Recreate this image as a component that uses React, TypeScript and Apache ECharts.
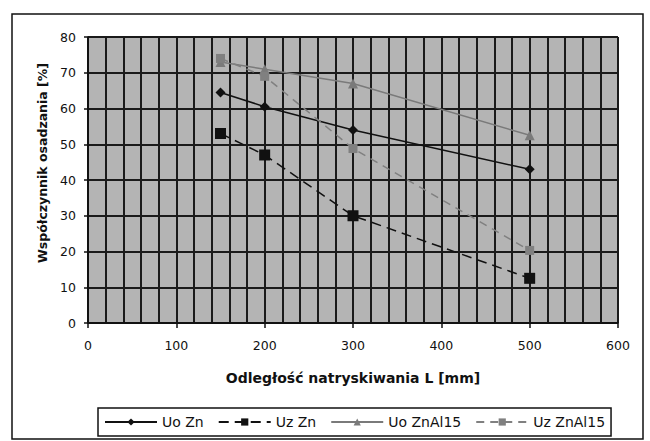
import React, { useEffect, useRef } from "react";
import * as echarts from "echarts";

const distances = [150, 200, 300, 500];
const uoZn = [64.5, 60.5, 54, 43];
const uzZn = [53, 47, 30, 12.5];
const uoZnAl15 = [73, 71, 67, 52.5];
const uzZnAl15 = [74, 69, 48.8, 20.3];
const seriesNames = ["Uo Zn", "Uz Zn", "Uo ZnAl15", "Uz ZnAl15"];

const pair = (vals: number[]) => distances.map((d, i) => [d, vals[i]]);

export default function App() {
  const ref = useRef<HTMLDivElement>(null);
  useEffect(() => {
    if (!ref.current) return;
    const chart = echarts.init(ref.current, null, { renderer: "svg" });
    const font = "DejaVu Sans, Verdana, sans-serif";
    const gridLine = { color: "#1a1a1a", width: 2 };
    chart.setOption({
      animation: false,
      backgroundColor: "#ffffff",
      textStyle: { fontFamily: font },
      graphic: [
        {
          type: "rect",
          shape: { x: 12, y: 14, width: 631, height: 425 },
          style: { fill: "none", stroke: "#111", lineWidth: 1.5 },
          z: -1,
        },
      ],
      grid: {
        left: 88,
        right: 32,
        top: 37,
        bottom: 118,
        show: true,
        backgroundColor: "#b4b4b4",
        borderColor: "#9a9a9a",
        borderWidth: 1,
      },
      xAxis: {
        type: "value",
        min: 0,
        max: 600,
        interval: 100,
        name: "Odległość natryskiwania L [mm]",
        nameLocation: "middle",
        nameGap: 48,
        nameTextStyle: { fontSize: 14, fontWeight: "bold", color: "#111", fontFamily: font },
        axisLine: { show: true, lineStyle: { color: "#111", width: 1.5 } },
        axisTick: { show: true, length: 5, lineStyle: { color: "#111", width: 1.5 } },
        axisLabel: { fontSize: 12.5, color: "#111", margin: 16, fontFamily: font },
        splitLine: { show: true, lineStyle: gridLine },
        minorTick: { show: false, splitNumber: 5 },
        minorSplitLine: { show: true, lineStyle: gridLine },
      },
      yAxis: {
        type: "value",
        min: 0,
        max: 80,
        interval: 10,
        name: "Współczynnik osadzania [%]",
        nameLocation: "middle",
        nameGap: 39,
        nameTextStyle: {
          fontSize: 12.5,
          fontWeight: "bold",
          color: "#111",
          fontFamily: font,
          padding: [0, 0, 0, 34],
        },
        axisLine: { show: true, lineStyle: { color: "#111", width: 1.5 } },
        axisTick: { show: true, length: 4, lineStyle: { color: "#111", width: 1.5 } },
        axisLabel: { fontSize: 12.5, color: "#111", margin: 12, fontFamily: font },
        splitLine: { show: true, lineStyle: gridLine },
      },
      legend: {
        left: 98,
        top: 408,
        padding: [7, 6, 7, 6],
        itemGap: 14,
        itemWidth: 52,
        itemHeight: 9,
        borderColor: "#111",
        borderWidth: 1.5,
        textStyle: { fontSize: 14, color: "#111", fontFamily: font },
        data: seriesNames,
      },
      series: [
        {
          name: seriesNames[0],
          type: "line",
          data: pair(uoZn),
          symbol: "diamond",
          symbolSize: 10,
          itemStyle: { color: "#111" },
          lineStyle: { color: "#111", width: 1.5 },
        },
        {
          name: seriesNames[1],
          type: "line",
          data: pair(uzZn),
          symbol: "rect",
          symbolSize: 11,
          itemStyle: { color: "#111" },
          lineStyle: { color: "#111", width: 1.5, type: [10, 6] },
        },
        {
          name: seriesNames[2],
          type: "line",
          data: pair(uoZnAl15),
          symbol: "triangle",
          symbolSize: 10,
          itemStyle: { color: "#7a7a7a" },
          lineStyle: { color: "#7a7a7a", width: 1.5 },
        },
        {
          name: seriesNames[3],
          type: "line",
          data: pair(uzZnAl15),
          symbol: "rect",
          symbolSize: 9,
          itemStyle: { color: "#808080" },
          lineStyle: { color: "#808080", width: 1.5, type: [8, 6] },
        },
      ],
    });
    return () => chart.dispose();
  }, []);
  return (
    <div
      ref={ref}
      style={{ position: "absolute", left: 0, top: 0, width: 650, height: 441 }}
    />
  );
}
